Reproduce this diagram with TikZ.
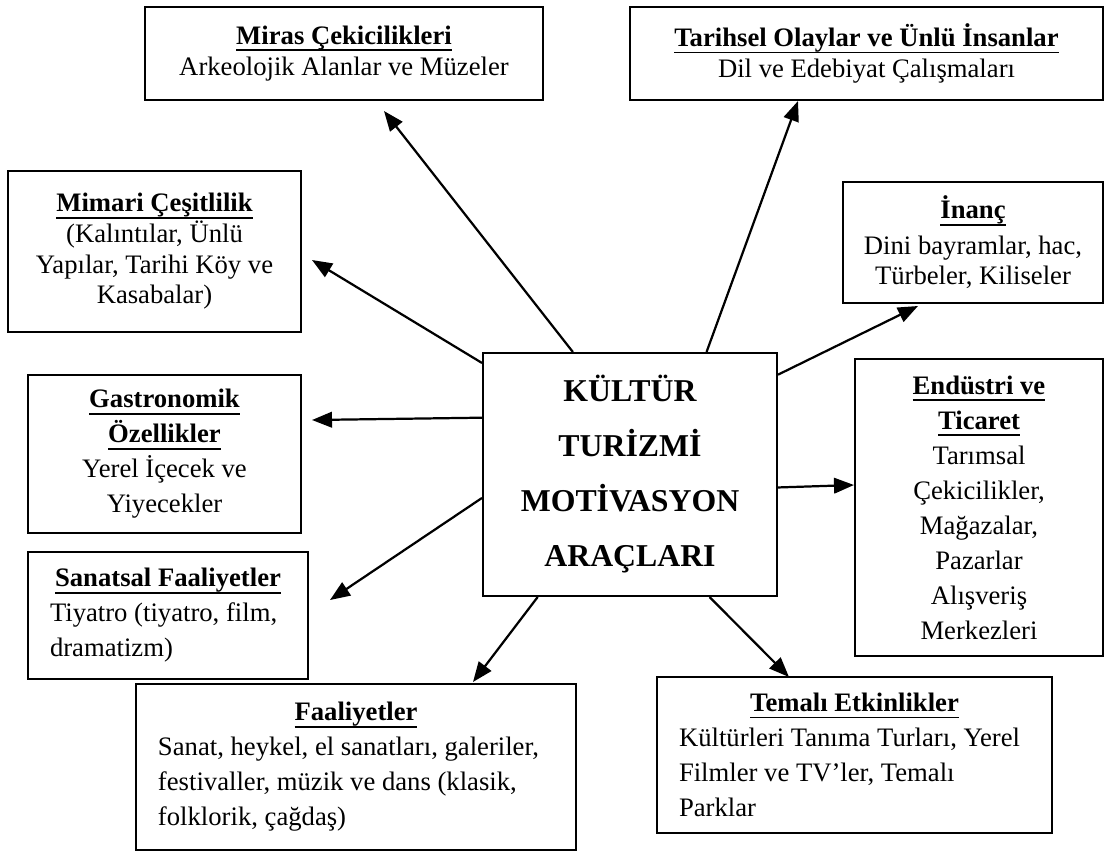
\documentclass[tikz,border=0pt]{standalone}
\usepackage{fontspec}
\setmainfont{Liberation Serif}
\usetikzlibrary{arrows.meta}
\newsavebox{\bsbox}
\newcommand{\baslik}[1]{\sbox{\bsbox}{\textbf{#1}}%
  \rlap{\vrule height -2.2pt depth 3pt width \wd\bsbox}\usebox{\bsbox}}

\begin{document}
\begin{tikzpicture}[x=0.45pt,y=-0.45pt,
    kutu/.style={draw,line width=0.9pt,inner sep=0pt,align=center,
      font=\fontsize{12}{15.75}\selectfont},
    sik/.style={font=\fontsize{12}{13.8}\selectfont},
    solda/.style={align=flush left,inner xsep=9.9pt},
    ok/.style={line width=1pt,-{Triangle[length=9pt,width=7pt]}}]
  \useasboundingbox (0,0) rectangle (1105,851);
  %merkez
  \node[kutu,minimum width=132.3pt,minimum height=109.35pt,
    font=\fontsize{14.3}{24.75}\selectfont\bfseries] (kt) at (630,474.5)
    {KÜLTÜR\\TURİZMİ\\MOTİVASYON\\ARAÇLARI};
  %kutular
  \node[kutu,sik,minimum width=179.1pt,minimum height=41.85pt] (miras) at (344,53.5)
    {\baslik{Miras Çekicilikleri}\\Arkeolojik Alanlar ve Müzeler};
  \node[kutu,sik,minimum width=212.85pt,minimum height=41.85pt] (tarih) at (866.5,53.5)
    {\baslik{Tarihsel Olaylar ve Ünlü İnsanlar}\\Dil ve Edebiyat Çalışmaları};
  \node[kutu,sik,minimum width=131.85pt,minimum height=72.45pt] (mimari) at (154.5,251.5)
    {\baslik{Mimari Çeşitlilik}\\(Kalıntılar, Ünlü\\Yapılar, Tarihi Köy ve\\Kasabalar)};
  \node[kutu,sik,minimum width=117pt,minimum height=54.45pt] (inanc) at (973,242.5)
    {\baslik{İnanç}\\[2pt]Dini bayramlar, hac,\\Türbeler, Kiliseler};
  \node[kutu,minimum width=122.85pt,minimum height=71.1pt] (gastro) at (164.5,454)
    {\baslik{Gastronomik}\\\baslik{Özellikler}\\Yerel İçecek ve\\Yiyecekler};
  \node[kutu,minimum width=111.6pt,minimum height=133.65pt] (endustri) at (979,507.5)
    {\baslik{Endüstri ve}\\\baslik{Ticaret}\\Tarımsal\\Çekicilikler,\\Mağazalar,\\Pazarlar\\Alışveriş\\Merkezleri};
  \node[kutu,solda,text width=106.2pt,minimum width=126pt,minimum height=57.15pt] (sanat) at (168,615.5)
    {\makebox[\linewidth]{\baslik{Sanatsal Faaliyetler}}\\Tiyatro (tiyatro, film,\\dramatizm)};
  \node[kutu,solda,text width=178.2pt,minimum width=198pt,minimum height=74.7pt] (faal) at (356,767)
    {\makebox[\linewidth]{\baslik{Faaliyetler}}\\Sanat, heykel, el sanatları, galeriler,\\festivaller, müzik ve dans (klasik,\\folklorik, çağdaş)};
  \node[kutu,solda,text width=157.95pt,minimum width=177.75pt,minimum height=70.2pt] (tema) at (854.5,755)
    {\makebox[\linewidth]{\baslik{Temalı Etkinlikler}}\\Kültürleri Tanıma Turları, Yerel\\Filmler ve TV’ler, Temalı\\Parklar};
  %oklar
  \draw[ok] (kt.115.5) -- ([shift={(40,10)}]miras.south);
  \draw[ok] (kt.58.9) -- ([shift={(-68.5,0)}]tarih.south);
  \draw[ok] (kt.34.6) -- ([shift={(-55,2)}]inanc.south);
  \draw[ok] (kt.143.3) -- ([shift={(10,8.5)}]mimari.east);
  \draw[ok] (kt.159.7) -- ([shift={(10,-34)}]gastro.east);
  \draw[ok] (kt.189.1) -- ([shift={(21,-15.5)}]sanat.east);
  \draw[ok] (kt.233.4) -- ([shift={(117,-1)}]faal.north);
  \draw[ok] (kt.303.8) -- ([shift={(-65.5,1)}]tema.north);
  \draw[ok] (kt.355.9) -- ([shift={(0,-22.5)}]endustri.west);
\end{tikzpicture}
\end{document}
